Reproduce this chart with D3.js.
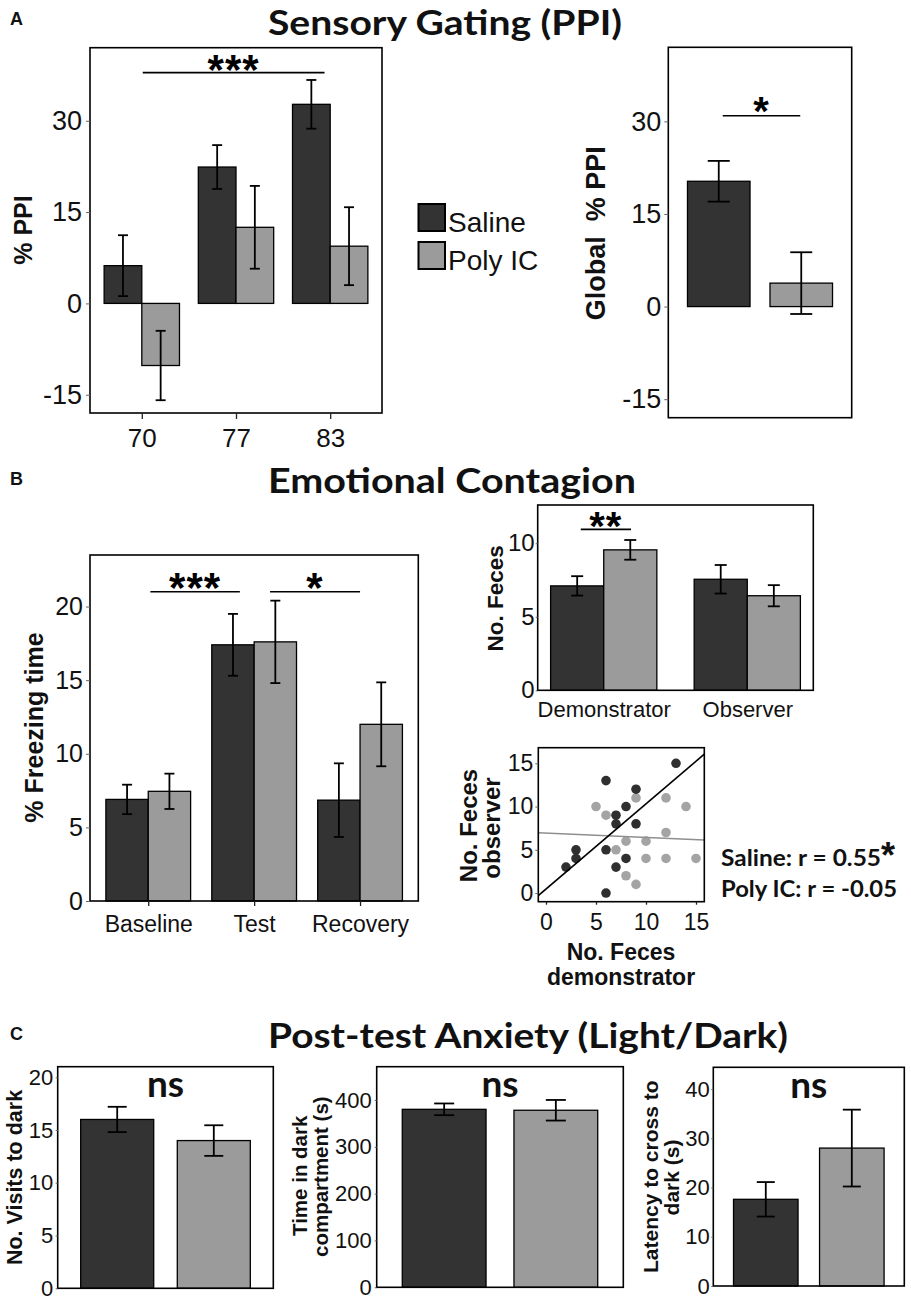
<!DOCTYPE html>
<html><head><meta charset="utf-8">
<script src="https://cdn.jsdelivr.net/npm/d3@7"></script>
<style>body{margin:0;background:#fff} svg{display:block;background:#fff}</style>
</head><body>
<script>
// ---------------- DATA ----------------
const groups = ["Saline", "Poly IC"];

const ppiCategories = ["70", "77", "83"];
const ppiSaline = [6.2, 22.4, 32.7];
const ppiSalineErr = [5.0, 3.6, 4.0];
const ppiPolyIC = [-10.2, 12.5, 9.4];
const ppiPolyICErr = [5.7, 6.8, 6.4];
const ppiTicks = [-15, 0, 15, 30];

const globalPPI = [20.3, 3.8];
const globalPPIErr = [3.3, 5.0];

const freezeCategories = ["Baseline", "Test", "Recovery"];
const freezeSaline = [6.9, 17.4, 6.85];
const freezeSalineErr = [1.0, 2.1, 2.5];
const freezePolyIC = [7.45, 17.6, 12.0];
const freezePolyICErr = [1.2, 2.8, 2.85];
const freezeTicks = [0, 5, 10, 15, 20];

const fecesCategories = ["Demonstrator", "Observer"];
const fecesSaline = [7.1, 7.55];
const fecesSalineErr = [0.66, 0.97];
const fecesPolyIC = [9.55, 6.43];
const fecesPolyICErr = [0.67, 0.72];
const fecesTicks = [0, 5, 10];

const scatterSaline = [[13,15],[6,13],[9,12],[8,10],[7,9],[7,8],[9,8],[3,5],[3,4],[2,3],[6,5],[8,4],[7,3],[6,0]];
const scatterPolyIC = [[5,10],[6,9],[9,11],[12,11],[14,10],[12,7],[8,6],[10,6],[7,5],[10,4],[12,4],[15,4],[8,2],[9,1]];
const scatterTicks = [0, 5, 10, 15];

const visitsValues = [16.0, 14.0];
const visitsErr = [1.2, 1.45];
const visitsTicks = [0, 5, 10, 15, 20];

const timeDarkValues = [380, 378];
const timeDarkErr = [12.5, 22];
const timeDarkTicks = [0, 100, 200, 300, 400];

const latencyValues = [17.6, 28.0];
const latencyErr = [3.5, 7.8];
const latencyTicks = [0, 10, 20, 30, 40];

// ---------------- STYLE ----------------
const SANS = "'Liberation Sans', Arial, Helvetica, sans-serif";
const TITLE = "Lato, 'Open Sans', sans-serif";
const COLORS = { "Saline": "#333333", "Poly IC": "#9b9b9b" };
const PT_COLORS = { "Saline": "#2f2f2f", "Poly IC": "#a4a4a4" };

const svg = d3.select("body").append("svg").attr("width", 911).attr("height", 1300);

function frame(g, o) {
  g.append("rect").attr("x", o.x0).attr("y", o.y0).attr("width", o.x1 - o.x0).attr("height", o.y1 - o.y0)
    .attr("fill", "none").attr("stroke", "#000").attr("stroke-width", 1.6);
}
function yAxis(g, y, ticks, x0, fs, ts, pad) {
  const a = g.append("g").attr("transform", `translate(${x0},0)`)
    .call(d3.axisLeft(y).tickValues(ticks).tickSize(ts).tickPadding(pad).tickFormat(d => String(d)));
  a.select(".domain").remove();
  a.selectAll(".tick line").attr("stroke", "#666").attr("stroke-width", 1);
  a.selectAll("text").attr("font-family", SANS).attr("font-size", fs).attr("fill", "#111");
}
function xAxis(g, x, y1, fs, ts, pad, ticks) {
  const ax = d3.axisBottom(x).tickSize(ts).tickPadding(pad).tickFormat(d => String(d));
  if (ticks) ax.tickValues(ticks);
  const a = g.append("g").attr("transform", `translate(0,${y1})`).call(ax);
  a.select(".domain").remove();
  a.selectAll(".tick line").attr("stroke", "#222").attr("stroke-width", 1.3);
  a.selectAll("text").attr("font-family", SANS).attr("font-size", fs).attr("fill", "#111");
}
function errBars(g, data, cap) {
  const sel = g.selectAll(null).data(data).enter().append("g").attr("stroke", "#000").attr("stroke-width", 1.8);
  sel.append("line").attr("x1", d => d.cx).attr("x2", d => d.cx).attr("y1", d => d.yTop).attr("y2", d => d.yBot);
  sel.append("line").attr("x1", d => d.cx - cap / 2).attr("x2", d => d.cx + cap / 2).attr("y1", d => d.yTop).attr("y2", d => d.yTop);
  sel.append("line").attr("x1", d => d.cx - cap / 2).attr("x2", d => d.cx + cap / 2).attr("y1", d => d.yBot).attr("y2", d => d.yBot);
}
function sigMark(g, xa, xb, yLine, label, fs, above) {
  g.append("line").attr("x1", xa).attr("x2", xb).attr("y1", yLine).attr("y2", yLine)
    .attr("stroke", "#000").attr("stroke-width", 1.6);
  g.append("text").attr("x", (xa + xb) / 2).attr("y", yLine - above + 0.45 * fs)
    .attr("text-anchor", "middle").attr("font-family", SANS).attr("font-weight", "bold")
    .attr("font-size", fs).attr("letter-spacing", 1).text(label);
}
function vLabel(text, bx, cy, fs) {
  svg.append("text").attr("transform", `translate(${bx},${cy}) rotate(-90)`)
    .attr("text-anchor", "middle").attr("font-family", SANS).attr("font-weight", "bold")
    .attr("font-size", fs).attr("fill", "#111").style("white-space", "pre").text(text);
}
function bar(sel, x, y, w, v, color) {
  sel.attr("x", x).attr("y", y(Math.max(0, v))).attr("width", w)
    .attr("height", Math.abs(y(v) - y(0))).attr("fill", color).attr("stroke", "#000").attr("stroke-width", 1.3);
}

function groupedPanel(o) {
  const g = svg.append("g");
  const y = d3.scaleLinear().domain(o.domain).range([o.y1, o.y0]);
  const x = d3.scalePoint().domain(o.cats).range([o.x0, o.x1]).padding(o.pad);
  const bw = x.step() * o.barFrac;
  const series = [
    { name: "Saline", v: o.sal, e: o.salE, off: -1 },
    { name: "Poly IC", v: o.pol, e: o.polE, off: 0 }
  ];
  const eb = [];
  series.forEach(s => {
    g.selectAll(null).data(o.cats).enter().append("rect")
      .each(function (c, i) { bar(d3.select(this), x(c) + s.off * bw, y, bw, s.v[i], COLORS[s.name]); });
    o.cats.forEach((c, i) => eb.push({ cx: x(c) + s.off * bw + bw / 2, yTop: y(s.v[i] + s.e[i]), yBot: y(s.v[i] - s.e[i]) }));
  });
  errBars(g, eb, o.cap);
  frame(g, o);
  yAxis(g, y, o.ticks, o.x0, o.tfs, o.ts, o.tpad);
  xAxis(g, x, o.y1, o.xfs, o.xts, o.xpad);
  const xi = d3.scaleLinear().domain([0, o.cats.length - 1]).range([x(o.cats[0]), x(o.cats[o.cats.length - 1])]);
  (o.sig || []).forEach(s => sigMark(g, xi(s.from), xi(s.to), y(s.level), s.label, s.fs, s.above));
  return g;
}

function pairPanel(o) {
  const g = svg.append("g");
  const y = d3.scaleLinear().domain(o.domain).range([o.y1, o.y0]);
  const x = d3.scaleBand().domain(groups).range([o.x0, o.x1]).paddingInner(o.pi).paddingOuter(o.po);
  g.selectAll(null).data(groups).enter().append("rect")
    .each(function (c, i) { bar(d3.select(this), x(c), y, x.bandwidth(), o.vals[i], COLORS[c]); });
  errBars(g, groups.map((c, i) => ({ cx: x(c) + x.bandwidth() / 2, yTop: y(o.vals[i] + o.errs[i]), yBot: y(o.vals[i] - o.errs[i]) })), o.cap);
  frame(g, o);
  yAxis(g, y, o.ticks, o.x0, o.tfs, o.ts, o.tpad);
  if (o.sig) {
    const s = o.sig;
    sigMark(g, x(groups[0]) + x.bandwidth() / 2 + s.da, x(groups[1]) + x.bandwidth() / 2 + s.db, y(s.level), s.label, s.fs, s.above);
  }
  if (o.ns) {
    g.append("text").attr("x", (o.x0 + o.x1) / 2).attr("y", o.y0 + o.ns)
      .attr("text-anchor", "middle").attr("font-family", TITLE).attr("font-weight", "bold")
      .attr("font-size", 37).attr("fill", "#111").text("ns");
  }
  return g;
}

function title(text, y, len) {
  svg.append("text").attr("x", 268).attr("y", y).attr("font-family", TITLE).attr("font-weight", "bold")
    .attr("font-size", 35).attr("fill", "#111").attr("textLength", len).attr("lengthAdjust", "spacingAndGlyphs").text(text);
}
function letter(t, y) {
  svg.append("text").attr("x", 10).attr("y", y).attr("font-family", SANS).attr("font-weight", "bold")
    .attr("font-size", 18).attr("fill", "#111").text(t);
}

// ---------------- PANEL A ----------------
letter("A", 25);
title("Sensory Gating (PPI)", 35, 354);

groupedPanel({
  x0: 90, x1: 382, y0: 47.7, y1: 413, domain: [-18, 42], ticks: ppiTicks,
  cats: ppiCategories, sal: ppiSaline, salE: ppiSalineErr, pol: ppiPolyIC, polE: ppiPolyICErr,
  pad: 0.55, barFrac: 0.4, cap: 10, tfs: 27, ts: 4, tpad: 4, xfs: 26, xts: 6, xpad: 9.5,
  sig: [{ from: 0.01, to: 1.94, level: 37.9, label: "***", fs: 42, above: 8 }]
});
vLabel("% PPI", 31.7, 230, 25);

const leg = svg.append("g");
groups.forEach((gname, i) => {
  leg.append("rect").attr("x", 418.5).attr("y", 204 + i * 38).attr("width", 26.5).attr("height", 27)
    .attr("fill", COLORS[gname]).attr("stroke", "#000").attr("stroke-width", 2);
  leg.append("text").attr("x", 448).attr("y", 231.5 + i * 38).attr("font-family", SANS)
    .attr("font-size", 28).attr("fill", "#111").text(gname);
});

pairPanel({
  x0: 668.3, x1: 851.7, y0: 47.3, y1: 417.7, domain: [-18, 42], ticks: ppiTicks,
  vals: globalPPI, errs: globalPPIErr, pi: 0.242, po: 0.2325, cap: 22, tfs: 27, ts: 4, tpad: 3,
  sig: { da: 4, db: -1, level: 30.9, label: "*", fs: 40, above: 8.5 }
});
vLabel("Global  % PPI", 605, 233.3, 27);

// ---------------- PANEL B ----------------
letter("B", 485);
title("Emotional Contagion", 493.3, 368);

groupedPanel({
  x0: 90, x1: 418.3, y0: 555, y1: 901, domain: [0, 23.5], ticks: freezeTicks,
  cats: freezeCategories, sal: freezeSaline, salE: freezeSalineErr, pol: freezePolyIC, polE: freezePolyICErr,
  pad: 0.55, barFrac: 0.4, cap: 10, tfs: 25, ts: 4, tpad: 3, xfs: 23, xts: 5, xpad: 9.4,
  sig: [
    { from: 0.02, to: 0.865, level: 21.0, label: "***", fs: 42, above: 9 },
    { from: 1.15, to: 2.0, level: 21.0, label: "*", fs: 42, above: 9 }
  ]
});
vLabel("% Freezing time", 43.3, 727.5, 25);

groupedPanel({
  x0: 537.7, x1: 813.3, y0: 505, y1: 690.3, domain: [0, 12.6], ticks: fecesTicks,
  cats: fecesCategories, sal: fecesSaline, salE: fecesSalineErr, pol: fecesPolyIC, polE: fecesPolyICErr,
  pad: 0.46, barFrac: 0.37, cap: 12, tfs: 24, ts: 2, tpad: 1, xfs: 22, xts: 0, xpad: 10.8,
  sig: [{ from: -0.16, to: 0.19, level: 10.94, label: "**", fs: 40, above: 7.8 }]
});
vLabel("No. Feces", 503.3, 598.3, 22.5);

// scatter
(function () {
  const o = { x0: 538.3, x1: 704.3, y0: 747.7, y1: 901.7 };
  const g = svg.append("g");
  const x = d3.scaleLinear().domain([-0.77, 15.83]).range([o.x0, o.x1]);
  const y = d3.scaleLinear().domain([-1, 16.8]).range([o.y1, o.y0]);
  g.append("clipPath").attr("id", "scClip").append("rect")
    .attr("x", o.x0).attr("y", o.y0).attr("width", o.x1 - o.x0).attr("height", o.y1 - o.y0);
  [["Poly IC", scatterPolyIC], ["Saline", scatterSaline]].forEach(([name, pts]) => {
    g.selectAll(null).data(pts).enter().append("circle")
      .attr("cx", d => x(d[0])).attr("cy", d => y(d[1])).attr("r", 4.8)
      .attr("fill", PT_COLORS[name]);
  });
  function fit(pts) {
    const mx = d3.mean(pts, d => d[0]), my = d3.mean(pts, d => d[1]);
    const sxy = d3.sum(pts, d => (d[0] - mx) * (d[1] - my));
    const sxx = d3.sum(pts, d => (d[0] - mx) ** 2);
    const b = sxy / sxx;
    return { b, a: my - b * mx };
  }
  const dom = x.domain();
  [["Poly IC", scatterPolyIC, "#8f8f8f", 1.5], ["Saline", scatterSaline, "#000", 1.6]].forEach(([name, pts, col, w]) => {
    const f = fit(pts);
    g.append("line").attr("clip-path", "url(#scClip)")
      .attr("x1", x(dom[0])).attr("y1", y(f.a + f.b * dom[0]))
      .attr("x2", x(dom[1])).attr("y2", y(f.a + f.b * dom[1]))
      .attr("stroke", col).attr("stroke-width", w);
  });
  frame(g, o);
  yAxis(g, y, scatterTicks, o.x0, 23, 3, 2);
  xAxis(g, x, o.y1, 23, 3, 9, scatterTicks);
})();
vLabel("No. Feces", 476.7, 825.5, 24);
vLabel("observer", 500, 828, 24);
svg.append("text").attr("x", 621).attr("y", 960).attr("text-anchor", "middle").attr("font-family", SANS)
  .attr("font-weight", "bold").attr("font-size", 23).attr("fill", "#111").text("No. Feces");
svg.append("text").attr("x", 621).attr("y", 985).attr("text-anchor", "middle").attr("font-family", SANS)
  .attr("font-weight", "bold").attr("font-size", 23).attr("fill", "#111").text("demonstrator");

svg.append("text").attr("x", 721).attr("y", 865.7).attr("font-family", TITLE).attr("font-weight", "bold")
  .attr("font-size", 23).attr("fill", "#111").attr("textLength", 160).attr("lengthAdjust", "spacingAndGlyphs")
  .text("Saline: r = 0.55");
svg.append("text").attr("x", 881).attr("y", 868).attr("font-family", SANS).attr("font-weight", "bold")
  .attr("font-size", 36).attr("fill", "#111").text("*");
svg.append("text").attr("x", 721).attr("y", 896.7).attr("font-family", TITLE).attr("font-weight", "bold")
  .attr("font-size", 23).attr("fill", "#111").attr("textLength", 176).attr("lengthAdjust", "spacingAndGlyphs")
  .text("Poly IC: r = -0.05");

// ---------------- PANEL C ----------------
letter("C", 1040);
title("Post-test Anxiety (Light/Dark)", 1048.3, 520);

pairPanel({
  x0: 57.7, x1: 273.3, y0: 1066.7, y1: 1288.3, domain: [0, 21], ticks: visitsTicks,
  vals: visitsValues, errs: visitsErr, pi: 0.244, po: 0.238, cap: 19, tfs: 22, ts: 2, tpad: 2.5, ns: 30
});
vLabel("No. Visits to dark", 21.7, 1177.5, 21.5);

pairPanel({
  x0: 376.7, x1: 623.3, y0: 1066.7, y1: 1287.3, domain: [0, 471], ticks: timeDarkTicks,
  vals: timeDarkValues, errs: timeDarkErr, pi: 0.25, po: 0.229, cap: 20, tfs: 22, ts: 2, tpad: 3, ns: 30
});
vLabel("Time in dark", 306.7, 1175.8, 20.5);
vLabel("compartment (s)", 328.3, 1176.7, 20.5);

pairPanel({
  x0: 713.3, x1: 904.3, y0: 1067.3, y1: 1286, domain: [0, 44.4], ticks: latencyTicks,
  vals: latencyValues, errs: latencyErr, pi: 0.25, po: 0.235, cap: 18, tfs: 22, ts: 2, tpad: 1.5, ns: 31
});
vLabel("Latency to cross to", 658.3, 1176.7, 21);
vLabel("dark (s)", 679.3, 1177.5, 21);
</script>
</body></html>
